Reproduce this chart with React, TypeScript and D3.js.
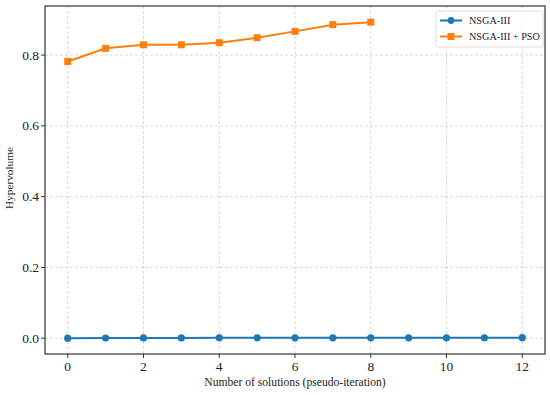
import React from "react";
import * as d3 from "d3";

const iterations = [0, 1, 2, 3, 4, 5, 6, 7, 8, 9, 10, 11, 12];
const nsgaValues = [0.0, 0.0005, 0.0008, 0.0008, 0.0009, 0.001, 0.001, 0.001, 0.001, 0.001, 0.0011, 0.0012, 0.0015];
const psoIterations = [0, 1, 2, 3, 4, 5, 6, 7, 8];
const psoValues = [0.782, 0.819, 0.829, 0.829, 0.835, 0.849, 0.867, 0.886, 0.893];
const xTicks = [0, 2, 4, 6, 8, 10, 12];
const yTicks = [0.0, 0.2, 0.4, 0.6, 0.8];
const seriesNames = ["NSGA-III", "NSGA-III + PSO"];
const colors = ["#1f77b4", "#ff7f0e"];

export default function App() {
  const width = 550;
  const height = 395;
  const left = 45, right = 545, top = 6, bottom = 354;

  const x = d3.scaleLinear().domain([-0.6, 12.6]).range([left, right]);
  const y = d3.scaleLinear().domain([-0.0447, 0.9387]).range([bottom, top]);

  const line = d3.line<[number, number]>().x(d => x(d[0])).y(d => y(d[1]));
  const nsga: [number, number][] = iterations.map((d, i) => [d, nsgaValues[i]]);
  const pso: [number, number][] = psoIterations.map((d, i) => [d, psoValues[i]]);

  const font = "'Liberation Serif', 'Times New Roman', serif";

  return (
    <svg width={width} height={height} style={{ position: "absolute", left: 0, top: 0 }} fontFamily={font}>
      <rect width={width} height={height} fill="#fff" />
      {/* grid */}
      {xTicks.map(t => (
        <line key={"gx" + t} x1={x(t)} x2={x(t)} y1={top} y2={bottom} stroke="#cfcfcf" strokeWidth={0.8} strokeDasharray="3,2" />
      ))}
      {yTicks.map(t => (
        <line key={"gy" + t} x1={left} x2={right} y1={y(t)} y2={y(t)} stroke="#cfcfcf" strokeWidth={0.8} strokeDasharray="3,2" />
      ))}
      {/* series */}
      <path d={line(nsga) || ""} fill="none" stroke={colors[0]} strokeWidth={2} />
      {nsga.map((d, i) => (
        <circle key={"c" + i} cx={x(d[0])} cy={y(d[1])} r={3.6} fill={colors[0]} />
      ))}
      <path d={line(pso) || ""} fill="none" stroke={colors[1]} strokeWidth={2} />
      {pso.map((d, i) => (
        <rect key={"s" + i} x={x(d[0]) - 3.5} y={y(d[1]) - 3.5} width={7} height={7} fill={colors[1]} />
      ))}
      {/* frame */}
      <rect x={left} y={top} width={right - left} height={bottom - top} fill="none" stroke="#333" strokeWidth={1.2} />
      {/* ticks */}
      {xTicks.map(t => (
        <g key={"xt" + t}>
          <line x1={x(t)} x2={x(t)} y1={bottom} y2={bottom + 4} stroke="#333" />
          <text x={x(t)} y={bottom + 17} textAnchor="middle" fontSize={13.5} fill="#222">{t}</text>
        </g>
      ))}
      {yTicks.map(t => (
        <g key={"yt" + t}>
          <line x1={left - 4} x2={left} y1={y(t)} y2={y(t)} stroke="#333" />
          <text x={left - 6} y={y(t) + 4.5} textAnchor="end" fontSize={13.5} fill="#222">{t.toFixed(1)}</text>
        </g>
      ))}
      {/* axis labels */}
      <text x={(left + right) / 2} y={386} textAnchor="middle" fontSize={11.6} fill="#222">Number of solutions (pseudo-iteration)</text>
      <text transform={`translate(13,178) rotate(-90)`} textAnchor="middle" fontSize={11.3} fill="#222">Hypervolume</text>
      {/* legend */}
      <rect x={436} y={11} width={107} height={36} rx={2} fill="#fff" fillOpacity={0.8} stroke="#d5d5d5" strokeWidth={0.8} />
      {seriesNames.map((name, i) => (
        <g key={name} transform={`translate(440,${20.5 + i * 16})`}>
          <line x1={0} x2={22} y1={0} y2={0} stroke={colors[i]} strokeWidth={2} />
          {i === 0 ? (
            <circle cx={11} cy={0} r={3.4} fill={colors[i]} />
          ) : (
            <rect x={7.5} y={-3.5} width={7} height={7} fill={colors[i]} />
          )}
          <text x={29} y={3.5} fontSize={10.2} fill="#222">{name}</text>
        </g>
      ))}
    </svg>
  );
}
